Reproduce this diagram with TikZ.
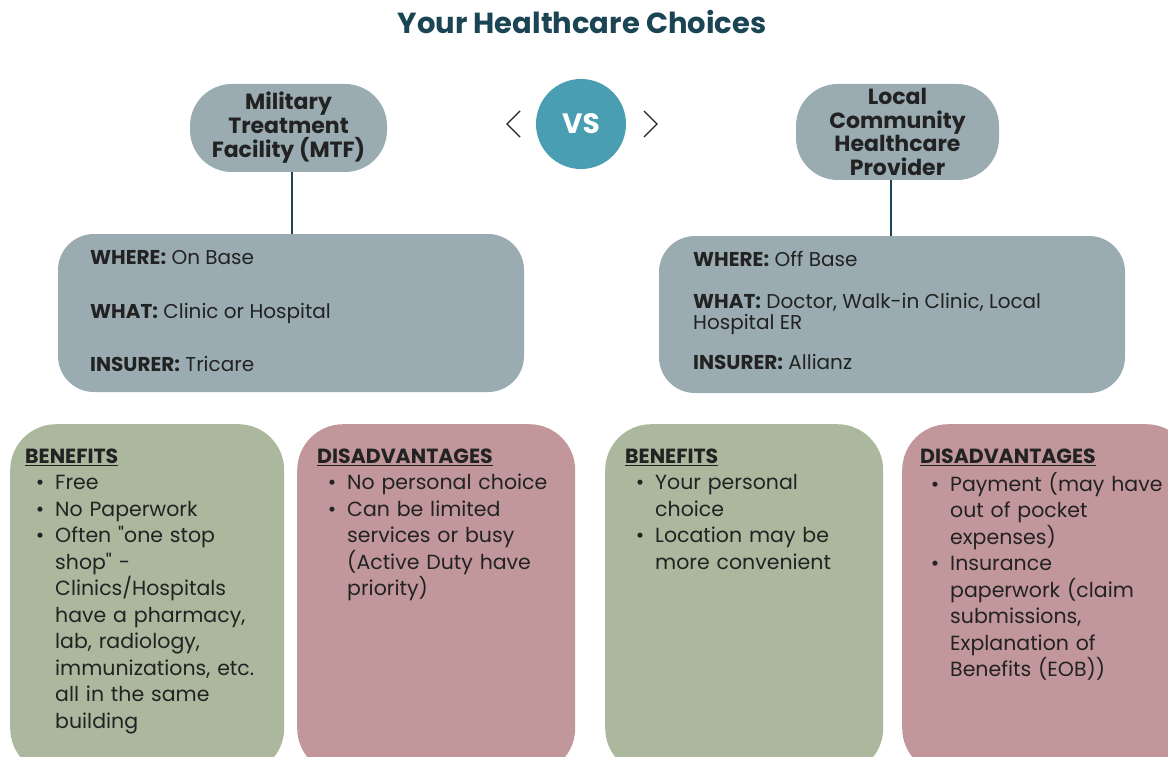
\documentclass[tikz,border=0pt]{standalone}
\usepackage{fontspec}
\setmainfont{Poppins}
\newfontfamily\qfont{Poppins}
\usetikzlibrary{calc}
\definecolor{titlec}{HTML}{1B4554}
\definecolor{slate}{HTML}{9AACB1}
\definecolor{teal}{HTML}{4A9EB1}
\definecolor{sage}{HTML}{ABB89E}
\definecolor{rose}{HTML}{C2979B}
\definecolor{ink}{HTML}{222222}
\newcommand{\sq}{{\qfont"}}
\newenvironment{blist}{\begin{list}{\textbullet}{\setlength\leftmargin{30pt}\setlength\labelwidth{15pt}\setlength\labelsep{11pt}\setlength\itemsep{0pt}\setlength\topsep{0pt}\setlength\parsep{0pt}\setlength\partopsep{0pt}}}{\end{list}}
\tikzset{
  pill/.style={fill=slate, rounded corners=42pt, align=center, text=ink, font=\fontsize{22}{24}\selectfont\bfseries, inner sep=0pt},
  infobox/.style={fill=slate, rounded corners=36pt, inner sep=0pt},
  infotext/.style={anchor=north west, inner sep=0pt, align=left, text=ink, font=\fontsize{20}{21}\selectfont},
  card/.style={rounded corners=46pt, inner sep=0pt},
  cardtext/.style={anchor=north west, inner sep=0pt, text width=270pt, align=left, text=ink, font=\fontsize{20.5}{26.5}\selectfont},
  conn/.style={draw=titlec, line width=2pt},
  chev/.style={draw=ink, line width=1.4pt},
}
\begin{document}
\begin{tikzpicture}[x=1pt,y=-1pt]
\useasboundingbox (0,0) rectangle (1168,757);
\fill[white] (0,0) rectangle (1168,757);
\clip (0,0) rectangle (1168,757);

\node[text=titlec, font=\fontsize{29}{32}\selectfont\bfseries] (title) at (582,22) {Your Healthcare Choices};

\node[pill, minimum width=197pt, minimum height=88pt] (mtf) at (288.5,128) {Military\\Treatment\\Facility (MTF)};
\node[pill, minimum width=203pt, minimum height=96pt, font=\fontsize{22}{23.5}\selectfont\bfseries] (loc) at (897.5,132) {Local\\Community\\Healthcare\\Provider};

\node[circle, fill=teal, minimum size=90pt, inner sep=0pt, text=white, font=\fontsize{28}{30}\selectfont\bfseries] (vs) at (581,124) {VS};
\draw[chev] (520,111) -- (507,124) -- (520,137);
\draw[chev] (644,111) -- (657,124) -- (644,137);

\node[infobox, minimum width=466pt, minimum height=158pt] (infoL) at (291,313) {};
\node[infobox, minimum width=466pt, minimum height=157pt] (infoR) at (892,314.5) {};

\draw[conn] ([xshift=3pt]mtf.south) -- ([xshift=3pt]mtf.south |- infoL.north);
\draw[conn] ([xshift=-7pt]loc.south) -- ([xshift=-7pt]loc.south |- infoR.north);

\node[infotext] (infoLt) at (90,250) {\strut\textbf{WHERE:} On Base\\[31.5pt]\textbf{WHAT:} Clinic or Hospital\\[31.5pt]\textbf{INSURER:} Tricare};
\node[infotext] (infoRt) at (693,251) {\strut\textbf{WHERE:} Off Base\\[19pt]\textbf{WHAT:} Doctor, Walk-in Clinic, Local\\Hospital ER\\[19pt]\textbf{INSURER:} Allianz};

\node[card, fill=sage, minimum width=274pt, minimum height=350pt, anchor=north west] (c1) at (10,424) {};
\node[card, fill=rose, minimum width=278pt, minimum height=350pt, anchor=north west] (c2) at (297,424) {};
\node[card, fill=sage, minimum width=278pt, minimum height=350pt, anchor=north west] (c3) at (605,424) {};
\node[card, fill=rose, minimum width=290pt, minimum height=350pt, anchor=north west] (c4) at (902,424) {};

\node[cardtext] (c1t) at (25,444.5) {\strut\underline{\textbf{BENEFITS}}
\begin{blist}
\item Free
\item No Paperwork
\item Often \sq one stop\\shop\sq{} -\\Clinics/Hospitals\\have a pharmacy,\\lab, radiology,\\immunizations, etc.\\all in the same\\building
\end{blist}};
\node[cardtext] (c2t) at (317,444.5) {\strut\underline{\textbf{DISADVANTAGES}}
\begin{blist}
\item No personal choice
\item Can be limited\\services or busy\\(Active Duty have\\priority)
\end{blist}};
\node[cardtext] (c3t) at (625,444.5) {\strut\underline{\textbf{BENEFITS}}
\begin{blist}
\item Your personal\\choice
\item Location may be\\more convenient
\end{blist}};
\node[cardtext] (c4t) at (920,444.5) {\strut\underline{\textbf{DISADVANTAGES}}
\begin{blist}
\item Payment (may have\\out of pocket\\expenses)
\item Insurance\\paperwork (claim\\submissions,\\Explanation of\\Benefits (EOB))
\end{blist}};
\end{tikzpicture}
\end{document}
